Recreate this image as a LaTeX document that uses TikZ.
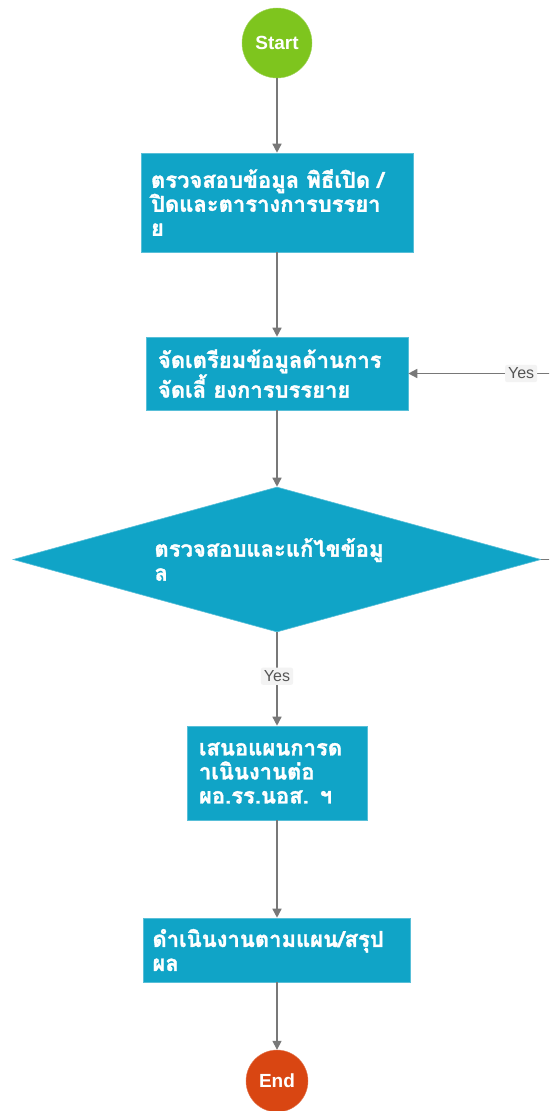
\documentclass[tikz,border=0pt]{standalone}
\usepackage{fontspec}
\setmainfont{Liberation Sans}
\newfontfamily\thaifont[Script=Thai,FakeBold=1.5]{Loma}
\usetikzlibrary{shapes.geometric,arrows.meta}
\definecolor{boxblue}{RGB}{16,164,199}
\definecolor{startgreen}{RGB}{126,197,30}
\definecolor{endred}{RGB}{217,70,18}
\definecolor{linegray}{RGB}{120,120,120}
\definecolor{lblbg}{RGB}{243,243,243}
\definecolor{lbltext}{RGB}{85,85,85}
\tikzset{
  procbox/.style={rectangle, fill=boxblue, draw=boxblue!70!white, line width=0.6pt, text=white,
    font=\thaifont\bfseries\fontsize{22}{24}\selectfont, align=left},
  decbox/.style={diamond, fill=boxblue, draw=boxblue!70!white, line width=0.6pt, text=white,
    font=\thaifont\bfseries\fontsize{22}{24}\selectfont, align=left, inner sep=0pt,
    shape aspect=3.64, text width=245pt, minimum width=528pt, minimum height=145pt},
  termnode/.style={circle, text=white, font=\bfseries\fontsize{19}{22}\selectfont, inner sep=0pt},
  flowarrow/.style={draw=linegray, line width=1.5pt, -{Triangle[length=9pt,width=9pt]}},
  yeslbl/.style={fill=lblbg, rounded corners=2pt, text=lbltext, font=\fontsize{16}{18}\selectfont,
    inner sep=3pt}
}
\begin{document}
\begin{tikzpicture}[x=1pt,y=-1pt]
\useasboundingbox (0,0) rectangle (549,1111);
\clip (0,0) rectangle (549,1111);
\fill[white] (0,0) rectangle (549,1111);

\node[termnode, fill=startgreen, draw=startgreen!70!white, minimum size=70pt] (start) at (277,43) {Start};

\node[procbox, text width=252pt, minimum width=272pt, minimum height=99pt, inner sep=10pt] (b1) at (277,202.5)
  {ตรวจสอบข้อมูล พิธีเปิด /\\ปิดและตารางการบรรยา\\ย};

\node[procbox, text width=238pt, minimum width=262pt, minimum height=73pt, inner sep=12pt] (b2) at (277,373.5)
  {จัดเตรียมข้อมูลด้านการ\\จัดเลี้ ยงการบรรยาย};

\node[decbox] (d) at (277,559.5) {ตรวจสอบและแก้ไขข้อมู\\ล};

\node[procbox, text width=156pt, minimum width=180pt, minimum height=94pt, inner sep=12pt] (b3) at (277,773)
  {เสนอแผนการด\\าเนินงานต่อ\\ผอ.รร.นอส. ฯ};

\node[procbox, text width=249pt, minimum width=267pt, minimum height=64pt, inner sep=9pt] (b4) at (277,950)
  {ดำเนินงานตามแผน/สรุป\\ผล};

\node[termnode, fill=endred, draw=endred!70!white, minimum size=62pt] (end) at (277,1081) {End};

\coordinate (rc) at (565,559.5);

\draw[flowarrow] (start) -- (b1);
\draw[flowarrow] (b1) -- (b2);
\draw[flowarrow] (b2) -- (d);
\draw[flowarrow] (d.south) -- node[pos=0.47, yeslbl] {Yes} (b3.north);
\draw[flowarrow] (b3) -- (b4);
\draw[flowarrow] (b4) -- (end);
\draw[flowarrow] (d.east) -- (rc) |- node[pos=0.64, yeslbl] {Yes} (b2.east);
\end{tikzpicture}
\end{document}
